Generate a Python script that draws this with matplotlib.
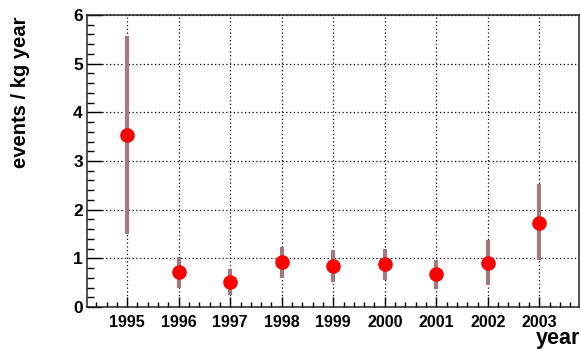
import matplotlib
matplotlib.use("Agg")
import matplotlib.pyplot as plt
from matplotlib.ticker import MultipleLocator
import numpy as np

years = [1995, 1996, 1997, 1998, 1999, 2000, 2001, 2002, 2003]
rate = [3.54, 0.71, 0.52, 0.93, 0.85, 0.89, 0.67, 0.91, 1.73]
rate_low = [1.50, 0.39, 0.25, 0.59, 0.52, 0.56, 0.38, 0.45, 0.97]
rate_high = [5.56, 1.03, 0.78, 1.23, 1.17, 1.19, 0.97, 1.38, 2.52]
year_labels = [str(y) for y in years]

plt.rcParams["font.family"] = ["Liberation Sans", "DejaVu Sans"]
plt.rcParams["font.weight"] = "bold"

fig = plt.figure(figsize=(5.81, 3.49), dpi=100)
ax = fig.add_axes([0.1497, 0.1203, 0.8469, 0.8367])

r = np.array(rate)
yerr = [r - np.array(rate_low), np.array(rate_high) - r]
ax.errorbar(years, rate, yerr=yerr, fmt="none", ecolor="#a27a7e",
            elinewidth=3.0, capsize=0, zorder=3)
ax.plot(years, rate, "o", color="#ff0000", markersize=10.5,
        markeredgewidth=0, zorder=4)

ax.set_xlim(1994.22, 2003.77)
ax.set_ylim(0, 6)

ax.set_xticks(years)
ax.set_xticklabels(year_labels)
ax.xaxis.set_minor_locator(MultipleLocator(0.2))
ax.yaxis.set_major_locator(MultipleLocator(1))
ax.yaxis.set_minor_locator(MultipleLocator(0.2))

ax.tick_params(axis="both", which="both", direction="in", top=False, right=False,
               width=1.0, color="black")
ax.tick_params(axis="y", which="major", length=10.5, pad=3, labelsize=12.5)
ax.tick_params(axis="y", which="minor", length=5)
ax.tick_params(axis="x", which="major", length=7, pad=6, labelsize=11.5)
ax.tick_params(axis="x", which="minor", length=3.6)
for lab in ax.get_xticklabels() + ax.get_yticklabels():
    lab.set_fontweight("bold")

ax.grid(True, which="major", color="black", linestyle=(0, (1, 2)), linewidth=0.9)
ax.set_axisbelow(True)

for s in ax.spines.values():
    s.set_linewidth(1.1)
    s.set_color("#222222")

fig.text(0.036, 0.735, "events / kg year", rotation=90, ha="center", va="center",
         fontsize=14.5, fontweight="bold")
fig.text(0.998, 0.0, "year", ha="right", va="bottom", fontsize=15.5,
         fontweight="bold")

fig.savefig("out.png", dpi=100, facecolor="white")
